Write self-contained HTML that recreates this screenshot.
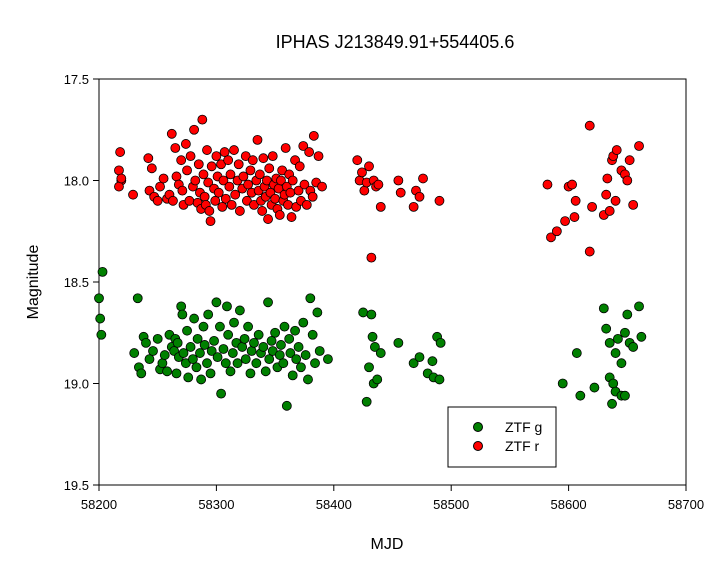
<!DOCTYPE html>
<html><head><meta charset="utf-8"><style>
body{margin:0;background:#fff;}
svg text{font-family:"Liberation Sans",Arial,sans-serif;}
</style></head><body>
<svg id="chart" width="720" height="576" xmlns="http://www.w3.org/2000/svg">
<rect width="720" height="576" fill="#fff"/>
<text x="395" y="48" font-size="18" text-anchor="middle">IPHAS J213849.91+554405.6</text>
<text x="387" y="549" font-size="16" text-anchor="middle">MJD</text>
<text transform="translate(38,282) rotate(-90)" font-size="16" text-anchor="middle">Magnitude</text>
<g id="axes"></g>
<g id="pts"></g>
<g>
<rect x="448" y="407" width="108" height="60" fill="#fff" stroke="#000"/>
<circle cx="478" cy="427" r="4.5" fill="#008000" stroke="#000"/>
<text x="505" y="432" font-size="14">ZTF g</text>
<circle cx="478" cy="446" r="4.5" fill="#ff0000" stroke="#000"/>
<text x="505" y="451" font-size="14">ZTF r</text>
</g>
</svg>
<script>
const xTicks=[58200,58300,58400,58500,58600,58700];
const yTicks=[17.5,18.0,18.5,19.0,19.5];
const yTickLabels=["17.5","18.0","18.5","19.0","19.5"];
const rMjd=[58217,58219,58218,58217,58219,58229,58242,58243,58245,58247,58250,58252,58255,58258,58260,58262,58263,58265,58266,58268,58270,58271,58272,58274,58275,58277,58278,58280,58281,58282,58284,58285,58286,58287,58288,58289,58290,58291,58292,58293,58294,58295,58296,58298,58299,58300,58301,58302,58304,58305,58306,58307,58308,58310,58311,58312,58313,58315,58316,58318,58319,58320,58322,58323,58325,58326,58327,58329,58330,58331,58332,58334,58335,58336,58337,58338,58339,58340,58341,58342,58343,58344,58345,58346,58347,58348,58349,58350,58351,58352,58353,58354,58355,58356,58357,58358,58359,58360,58361,58362,58363,58364,58365,58367,58368,58370,58371,58372,58374,58375,58377,58379,58380,58382,58383,58385,58387,58390,58420,58422,58424,58426,58428,58430,58432,58434,58436,58438,58440,58455,58457,58468,58470,58473,58476,58490,58582,58585,58590,58597,58600,58603,58605,58606,58618,58618,58620,58630,58632,58633,58635,58637,58638,58640,58641,58645,58648,58650,58652,58655,58660];
const rMag=[17.95,18.0,17.86,18.03,17.99,18.07,17.89,18.05,17.94,18.08,18.1,18.03,17.99,18.09,18.07,17.77,18.1,17.84,17.98,18.02,17.9,18.05,18.12,17.82,17.95,18.1,17.88,18.03,17.75,18.0,18.11,17.92,18.06,18.14,17.7,17.97,18.08,18.12,17.85,18.01,18.15,18.2,17.93,18.04,18.1,17.88,17.98,18.06,17.92,18.13,18.0,17.86,18.09,17.9,18.03,17.97,18.12,17.85,18.07,18.0,17.92,18.15,18.04,17.98,17.88,18.1,18.02,17.95,18.06,17.9,18.12,18.0,17.8,18.05,17.97,18.1,18.15,17.89,18.03,18.08,18.0,18.19,17.94,18.06,18.12,17.88,18.02,18.09,17.99,18.14,18.04,18.17,18.0,17.95,18.1,18.07,17.84,18.03,18.12,17.97,18.06,18.18,18.0,17.9,18.13,18.05,17.93,18.1,17.83,18.02,18.12,17.86,18.05,18.08,17.78,18.01,17.88,18.03,17.9,18.0,17.96,18.05,18.01,17.93,18.38,18.0,18.03,18.02,18.13,18.0,18.06,18.13,18.05,18.08,17.99,18.1,18.02,18.28,18.25,18.2,18.03,18.02,18.18,18.1,17.73,18.35,18.13,18.17,18.07,17.99,18.15,17.9,17.88,18.1,17.85,17.95,17.97,18.0,17.9,18.12,17.83];
const gMjd=[58200,58201,58202,58203,58230,58233,58234,58236,58238,58240,58243,58246,58250,58252,58254,58256,58258,58260,58262,58264,58265,58266,58267,58268,58270,58271,58272,58274,58275,58276,58278,58280,58281,58283,58284,58286,58287,58289,58290,58292,58293,58295,58296,58298,58300,58301,58303,58304,58306,58308,58309,58310,58312,58314,58315,58317,58318,58320,58322,58324,58325,58327,58329,58330,58332,58334,58336,58338,58340,58342,58344,58345,58347,58348,58350,58352,58354,58355,58357,58358,58360,58362,58363,58365,58367,58368,58370,58372,58374,58376,58378,58380,58382,58384,58386,58388,58395,58425,58428,58430,58432,58433,58434,58435,58437,58440,58455,58468,58473,58480,58484,58485,58488,58490,58491,58595,58607,58610,58622,58630,58632,58635,58635,58637,58638,58640,58640,58642,58645,58645,58648,58648,58650,58652,58655,58660,58662];
const gMag=[18.58,18.68,18.76,18.45,18.85,18.58,18.92,18.95,18.77,18.8,18.88,18.84,18.78,18.93,18.9,18.86,18.94,18.76,18.82,18.84,18.78,18.95,18.8,18.87,18.62,18.66,18.85,18.9,18.74,18.97,18.82,18.88,18.68,18.92,18.78,18.85,18.98,18.72,18.81,18.9,18.66,18.95,18.84,18.79,18.6,18.87,18.72,19.05,18.83,18.9,18.62,18.76,18.94,18.85,18.7,18.8,18.9,18.64,18.82,18.78,18.88,18.72,18.95,18.84,18.8,18.9,18.76,18.85,18.82,18.94,18.6,18.88,18.79,18.84,18.75,18.92,18.86,18.81,18.9,18.72,19.11,18.78,18.85,18.96,18.74,18.88,18.82,18.92,18.7,18.86,18.98,18.58,18.76,18.9,18.65,18.84,18.88,18.65,19.09,18.92,18.66,18.77,19.0,18.82,18.98,18.85,18.8,18.9,18.87,18.95,18.89,18.97,18.77,18.98,18.8,19.0,18.85,19.06,19.02,18.63,18.73,18.97,18.8,19.1,19.0,19.04,18.85,18.78,19.06,18.9,19.06,18.75,18.66,18.8,18.82,18.62,18.77];
const L=99,R=686,T=79,B=485;
const xs=v=>L+(v-58200)/500*(R-L);
const ys=v=>T+(v-17.5)/2*(B-T);
const NS="http://www.w3.org/2000/svg";
function mk(tag,attrs,parent){const e=document.createElementNS(NS,tag);for(const k in attrs)e.setAttribute(k,attrs[k]);parent.appendChild(e);return e;}
const ax=document.getElementById('axes');
const frame=mk('rect',{x:L,y:T,width:R-L,height:B-T,fill:'none',stroke:'#000'},ax);


xTicks.forEach(v=>{
 const t=mk('line',{x1:xs(v),x2:xs(v),y1:B,y2:B+6,stroke:'#000'},ax);
 
 
 const l=mk('text',{x:xs(v),y:B+24,'font-size':13,'text-anchor':'middle'},ax);
 l.textContent=v;
 
 
});
yTicks.forEach((v,i)=>{
 const t=mk('line',{x1:L-6,x2:L,y1:ys(v),y2:ys(v),stroke:'#000'},ax);
 
 
 const l=mk('text',{x:L-10,y:ys(v)+5,'font-size':13,'text-anchor':'end'},ax);
 l.textContent=yTickLabels[i];
 
 
});
const pg=document.getElementById('pts');
gMjd.forEach((m,i)=>{
 const c=mk('circle',{cx:xs(m),cy:ys(gMag[i]),r:4.5,fill:'#008000',stroke:'#000','stroke-width':0.8},pg);
 
 
});
rMjd.forEach((m,i)=>{
 const c=mk('circle',{cx:xs(m),cy:ys(rMag[i]),r:4.5,fill:'#ff0000',stroke:'#000','stroke-width':0.8},pg);
 
 
});
</script>
</body></html>
